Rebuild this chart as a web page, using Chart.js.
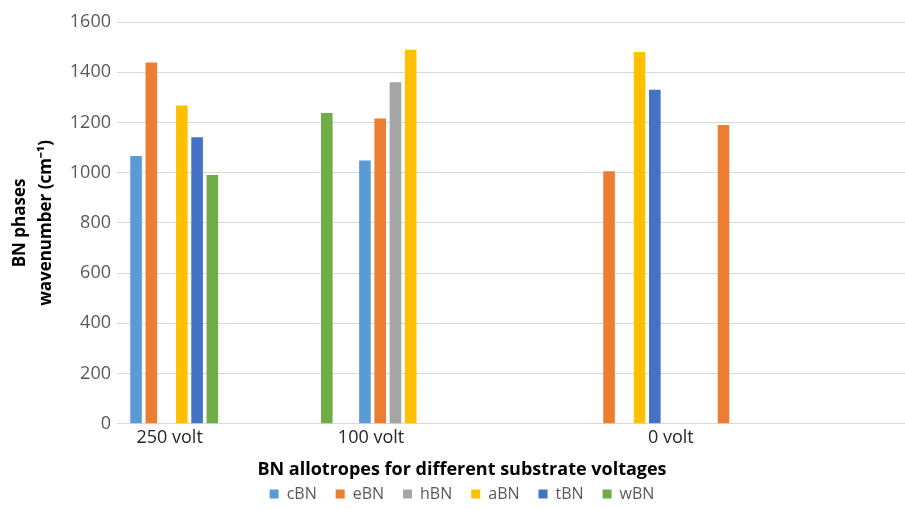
<!DOCTYPE html>
<html>
<head>
<meta charset="utf-8">
<title>BN allotropes</title>
<script src="https://cdn.jsdelivr.net/npm/chart.js@4.4.1/dist/chart.umd.min.js"></script>
<style>
    html, body { margin: 0; padding: 0; overflow: hidden; background: #fff; }
</style>
</head>
<body>
<canvas id="js--chart" width="940" height="509"></canvas>
<script>
// category slots along the x axis (the chart leaves some of them empty)
const slots = ['250 volt', '', '100 volt', '', '0 volt', '', ''];
const tickLabels = ['250 volt', '100 volt', '0 volt'];

const cBN = [1066, null, 1048, null, null, null, null];
const eBN = [1439, null, 1216, null, 1006, 1190, null];
const hBN = [null, null, 1360, null, null, null, null];
const aBN = [1267, null, 1489, null, 1481, null, null];
const tBN = [1141, null, null, null, 1330, null, null];
const wBN = [991, 1238, null, null, null, null, null];

// where the voltage labels sit, counted in slots from the left edge
const tickAt = [0.46, 2.22, 4.84];

Chart.defaults.font.family = "'Open Sans', sans-serif";

function series(label, values, color) {
    return {
        label: label,
        data: values,
        backgroundColor: color,
        barPercentage: 0.76,
        categoryPercentage: 0.8
    };
}

const data = {
    labels: slots,
    datasets: [
        series('cBN', cBN, '#5B9BD5'),
        series('eBN', eBN, '#ED7D31'),
        series('hBN', hBN, '#A5A5A5'),
        series('aBN', aBN, '#FFC000'),
        series('tBN', tBN, '#4472C4'),
        series('wBN', wBN, '#70AD47')
    ]
};

// the legend sits closer to the axis title than its row padding allows
const liftLegend = {
    id: 'liftLegend',
    afterLayout(chart) {
        chart.legend.top -= 14;
    }
};

const config = {
    type: 'bar',
    data: data,
    plugins: [liftLegend],
    options: {
        responsive: false,
        animation: false,
        layout: { padding: { top: 22, right: 22, bottom: 0, left: 6 } },
        plugins: {
            legend: {
                position: 'bottom',
                maxHeight: 28,
                labels: {
                    boxWidth: 9,
                    boxHeight: 9,
                    padding: 19,
                    color: '#595959',
                    font: { size: 16 }
                }
            },
            title: {
                display: true,
                position: 'bottom',
                weight: 500,
                text: 'BN allotropes for different substrate voltages',
                color: '#000',
                font: { size: 18, weight: 'bold' },
                padding: { top: 8, bottom: 0 }
            },
            tooltip: { enabled: false }
        },
        scales: {
            x: { display: false },
            x2: {
                type: 'linear',
                position: 'bottom',
                offset: false,
                min: 0,
                max: slots.length,
                grid: { display: false, drawTicks: false, offset: false },
                border: { display: false },
                afterBuildTicks: function (axis) {
                    axis.ticks = tickAt.map(v => ({ value: v }));
                },
                ticks: {
                    autoSkip: false,
                    maxRotation: 0,
                    padding: 3,
                    color: '#262626',
                    font: { size: 18 },
                    callback: (v, i) => tickLabels[i]
                }
            },
            y: {
                min: 0,
                max: 1600,
                afterFit: function (scale) { scale.width = 111; },
                ticks: {
                    stepSize: 200,
                    padding: 6,
                    color: '#595959',
                    font: { size: 18 },
                    callback: v => v
                },
                grid: { color: '#d9d9d9', drawTicks: false },
                border: { display: false },
                title: {
                    display: true,
                    text: ['BN phases', 'wavenumber (cm\u207B\u00B9)'],
                    color: '#000',
                    font: { size: 17, weight: 'bold', lineHeight: 1.53 },
                    padding: { top: 1, bottom: 0 }
                }
            }
        }
    }
};

new Chart(document.getElementById('js--chart'), config);
</script>
</body>
</html>
